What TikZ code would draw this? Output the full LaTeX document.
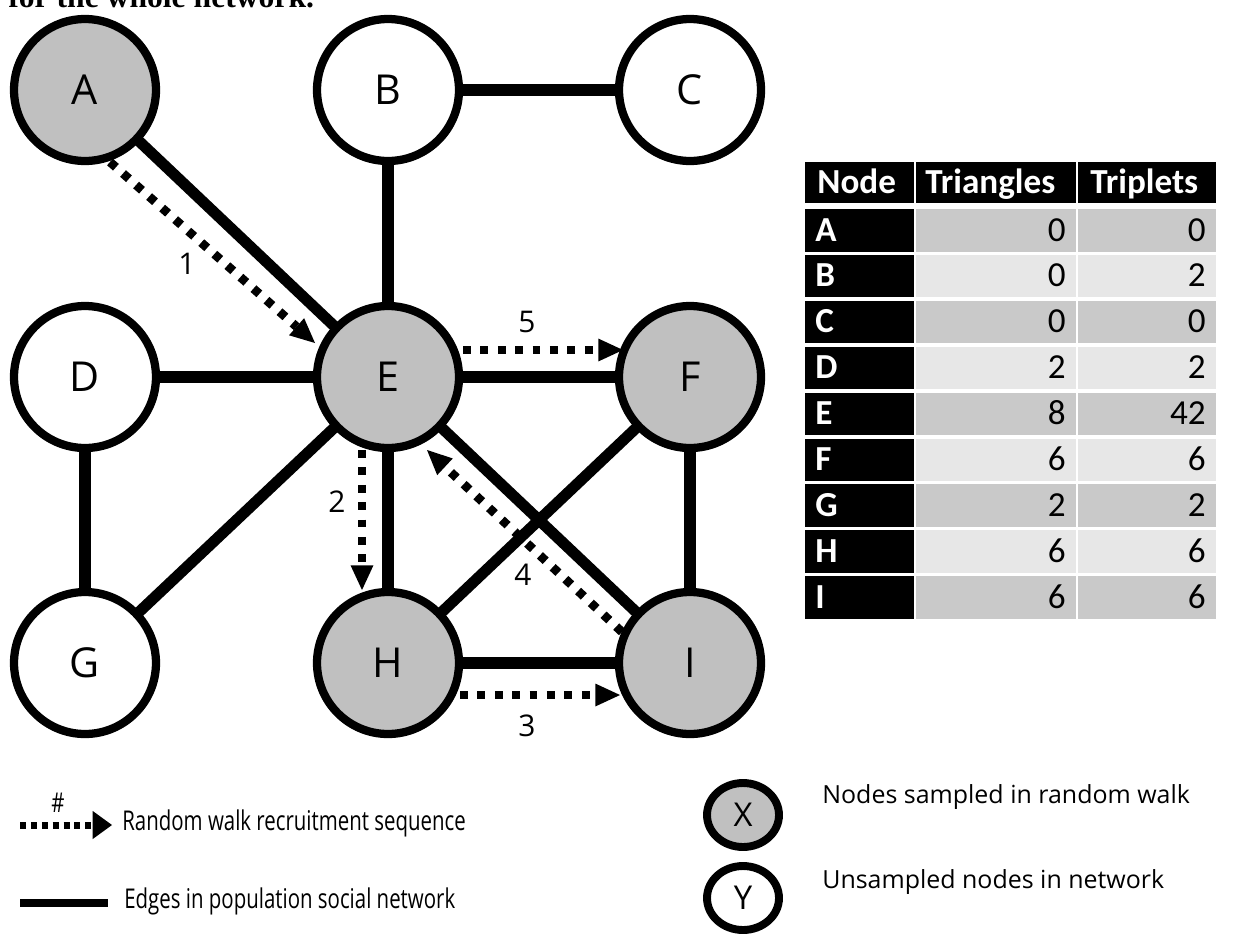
\documentclass[tikz,border=0pt]{standalone}
\usepackage{fontspec}
\newfontfamily\osans{Open Sans}
\newfontfamily\calib{Carlito}
\newfontfamily\tnr{Liberation Serif}
\usepackage{xcolor}
\usetikzlibrary{arrows.meta}
\usetikzlibrary{backgrounds}
\usetikzlibrary{shapes.geometric}

\definecolor{nodegray}{RGB}{192,192,192}
\definecolor{rowdark}{RGB}{201,201,201}
\definecolor{rowlight}{RGB}{231,231,231}

\tikzset{
  person/.style={circle,draw,fill=white,line width=4.7pt,minimum size=2.84cm,inner sep=0pt,
    font=\osans\fontsize{23.5}{28}\selectfont},
  sampled/.style={person,fill=nodegray},
  tie/.style={line width=6.3pt},
  walk/.style={line width=5pt,dash pattern=on 4.5pt off 5.4pt,
    -{Triangle[length=14pt,width=13pt,line width=0pt]}},
  stepno/.style={inner sep=0pt,font=\osans\fontsize{17}{20}\selectfont},
  headcell/.style={anchor=base west,inner sep=0pt,text=white,
    font=\calib\bfseries\fontsize{20}{24}\selectfont},
  numcell/.style={anchor=base east,inner sep=0pt,font=\calib\fontsize{20}{24}\selectfont},
  keytext/.style={anchor=base west,inner sep=0pt,font=\osans\fontsize{14.2}{17}\selectfont},
  narrowkey/.style={anchor=base west,inner sep=0pt,font=\osans\fontsize{15.5}{18}\selectfont},
  keywalk/.style={line width=4pt,dash pattern=on 3.4pt off 2.8pt,
    -{Triangle[length=11pt,width=16pt,line width=0pt]}},
  keytie/.style={line width=4.5pt},
  keyball/.style={ellipse,draw,fill=white,line width=4.5pt,minimum width=1.44cm,minimum height=1.28cm,
    inner sep=0pt,font=\osans\fontsize{18.7}{22}\selectfont},
}

\begin{document}
\begin{tikzpicture}[x=0.02cm,y=-0.02cm]
  \useasboundingbox (0,0) rectangle (1243,937);
  \node[anchor=base west,inner sep=0pt,font=\tnr\bfseries\fontsize{18}{21}\selectfont]
    (cap) at (8,7) {for the whole network.};

  \path (85,90)
    node (A) [sampled] {A} ++(303,0)
    node (B) [person] {B} ++(302,0)
    node (C) [person] {C} ++(-605,287)
    node (D) [person] {D} ++(303,0)
    node (E) [sampled] {E} ++(302,0)
    node (F) [sampled] {F} ++(-605,286)
    node (G) [person] {G} ++(303,0)
    node (H) [sampled] {H} ++(302,0)
    node (I) [sampled] {I};
  \begin{scope}[on background layer]
    \foreach \u/\v in {A/E,B/E,B/C,D/E,D/G,G/E,E/F,E/H,E/I,F/H,F/I,H/I}
      \draw[tie] (\u.center) -- (\v.center);
  \end{scope}

  % random walk
  \path (node cs:name=A,anchor=center) +(25,72) coordinate (ao);
  \path (node cs:name=E,anchor=center) +(-73,-34) coordinate (ei);
  \draw[walk] (ao) -- (ei);
  \path (node cs:name=E,anchor=center) +(-26,73) coordinate (eo);
  \path (node cs:name=H,anchor=center) +(-26,-73) coordinate (hi);
  \draw[walk] (eo) -- (hi);
  \path (node cs:name=H,anchor=center) +(72,32) coordinate (ho);
  \path (node cs:name=I,anchor=center) +(-70,32) coordinate (ii);
  \draw[walk] (ho) -- (ii);
  \path (node cs:name=I,anchor=center) +(-68,-31) coordinate (io);
  \path (node cs:name=E,anchor=center) +(39,73) coordinate (ebi);
  \draw[walk] (io) -- (ebi);
  \path (node cs:name=E,anchor=center) +(75,-27) coordinate (ebo);
  \path (node cs:name=F,anchor=center) +(-67,-27) coordinate (fi);
  \draw[walk] (ebo) -- (fi);
  \node[stepno] (s1) at (187,264) {1};
  \node[stepno] (s2) at (337,502) {2};
  \node[stepno] (s3) at (527,726) {3};
  \node[stepno] (s4) at (523,575) {4};
  \node[stepno] (s5) at (527,322) {5};

  % table
  \fill[black] (805,162) rectangle +(109,41);
  \fill[black] (916,162) rectangle +(160,41);
  \fill[black] (1078,162) rectangle +(138,41);
  \node[headcell] (hn) at (817,193) {Node};
  \node[headcell] (ht) at (925,193) {Triangles};
  \node[headcell] (hp) at (1090,193) {Triplets};
  \foreach \n/\tri/\trip [count=\i] in {A/0/0,B/0/2,C/0/0,D/2/2,E/8/42,F/6/6,G/2/2,H/6/6,I/6/6}
  {
    \pgfmathsetmacro\rowtop{209+45.9*(\i-1)}
    \pgfmathtruncatemacro\rowodd{mod(\i,2)}
    \ifnum\rowodd=1 \colorlet{rowfill}{rowdark}\else\colorlet{rowfill}{rowlight}\fi
    \fill[black] (805,\rowtop) rectangle +(109,42.5);
    \fill[rowfill] (916,\rowtop) rectangle +(160,42.5);
    \fill[rowfill] (1078,\rowtop) rectangle +(138,42.5);
    \node[headcell] (n\i) at (815,\rowtop+32) {\n};
    \node[numcell] (t\i) at (1066,\rowtop+32) {\tri};
    \node[numcell] (p\i) at (1206,\rowtop+32) {\trip};
  }

  % legend
  \coordinate (kw1) at (20,825);
  \coordinate (kw2) at (112,825);
  \draw[keywalk] (kw1) -- (kw2);
  \node[narrowkey,anchor=base] (hash) at (58,812) {\scalebox{0.75}[1]{\#}};
  \node[narrowkey] (kwt) at (122,830) {\scalebox{0.75}[1]{Random walk recruitment sequence}};
  \coordinate (ke1) at (20,903);
  \coordinate (ke2) at (108,903);
  \draw[keytie] (ke1) -- (ke2);
  \node[narrowkey] (ket) at (124,908) {\scalebox{0.75}[1]{Edges in population social network}};
  \node[keyball,fill=nodegray] (kx) at (743,815) {X};
  \node[keyball] (ky) at (743,898) {Y};
  \node[keytext] (kxt) at (822,803) {Nodes sampled in random walk};
  \node[keytext] (kyt) at (822,888) {Unsampled nodes in network};
\end{tikzpicture}
\end{document}
